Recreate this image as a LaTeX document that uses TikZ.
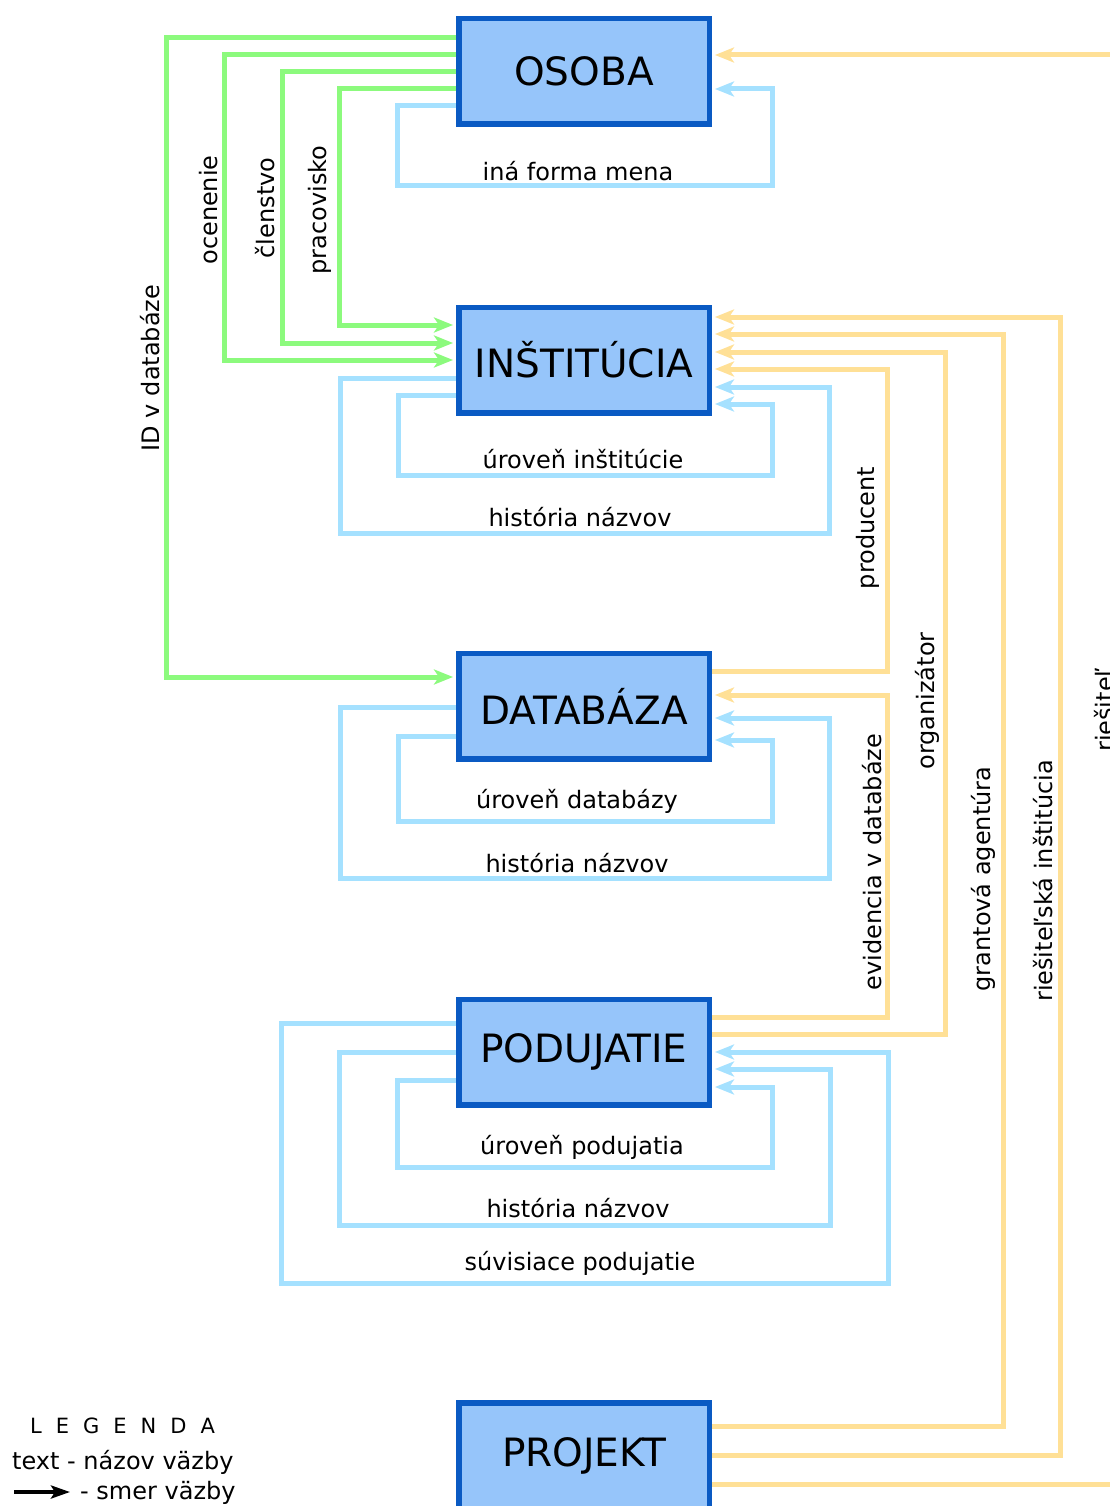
\documentclass[tikz,border=0pt]{standalone}
\usepackage{fontspec}
\setmainfont{DejaVu Sans}
\usetikzlibrary{arrows.meta}
\definecolor{boxfill}{HTML}{96C5FA}
\definecolor{boxline}{HTML}{0A5AC3}
\definecolor{lgreen}{HTML}{8CFA7D}
\definecolor{lblue}{HTML}{A5E1FF}
\definecolor{lorange}{HTML}{FFE096}
\begin{document}
\begin{tikzpicture}[x=1pt,y=-1pt,
  entity/.style={draw=boxline,fill=boxfill,line width=5.5pt,minimum width=250.5pt,minimum height=105.5pt,inner sep=0pt,font=\fontsize{39}{42}\selectfont},
  link/.style={line width=5pt,-{Stealth[length=19pt,width=15pt,inset=5pt]},shorten >=3pt},
  glink/.style={link,draw=lgreen},
  blink/.style={link,draw=lblue},
  olink/.style={link,draw=lorange},
  lbl/.style={font=\fontsize{24}{26}\selectfont,inner sep=0pt},
  vlbl/.style={lbl,rotate=90}]
\useasboundingbox (0,0) rectangle (1110,1506);
\fill[white] (0,0) rectangle (1110,1506);

% entities
\node[entity] (osoba) at (584,71.5) {OSOBA};
\node[entity] (inst)  at (584,360) {INŠTITÚCIA};
\node[entity] (datab) at (584,706) {DATABÁZA};
\node[entity] (pod)   at (584,1052) {PODUJATIE};
\node[entity] (proj)  at (584,1455.5) {PROJEKT};

% green links from OSOBA
\draw[glink] (osoba.west |- 0,38) -- (166,38) -- (166,677) -- (datab.west |- 0,677);
\draw[glink] (osoba.west |- 0,55) -- (224,55) -- (224,360) -- (inst.west |- 0,360);
\draw[glink] (osoba.west |- 0,72) -- (282,72) -- (282,343) -- (inst.west |- 0,343);
\draw[glink] (osoba.west |- 0,89) -- (339,89) -- (339,325) -- (inst.west |- 0,325);
\node[vlbl] (l-id)  at (150,368) {ID v databáze};
\node[vlbl] (l-oc)  at (209,210) {ocenenie};
\node[vlbl] (l-cl)  at (265,208) {členstvo};
\node[vlbl] (l-pr)  at (320,210) {pracovisko};

% OSOBA self loop
\draw[blink] (osoba.west |- 0,106) -- (397,106) -- (397,186) -- (772,186) -- (772,89) -- (osoba.east |- 0,89);
\node[lbl] (l-ina) at (578,171) {iná forma mena};

% INSTITUCIA self loops
\draw[blink] (inst.west |- 0,395) -- (398,395) -- (398,475) -- (772,475) -- (772,404) -- (inst.east |- 0,404);
\draw[blink] (inst.west |- 0,378) -- (340,378) -- (340,533) -- (829,533) -- (829,387) -- (inst.east |- 0,387);
\node[lbl] (l-ui) at (583,459) {úroveň inštitúcie};
\node[lbl] (l-hi) at (580,517) {história názvov};

% DATABAZA self loops
\draw[blink] (datab.west |- 0,736) -- (398,736) -- (398,821) -- (772,821) -- (772,740) -- (datab.east |- 0,740);
\draw[blink] (datab.west |- 0,707) -- (340,707) -- (340,878) -- (829,878) -- (829,718) -- (datab.east |- 0,718);
\node[lbl] (l-ud) at (577,801) {úroveň databázy};
\node[lbl] (l-hd) at (577,863) {história názvov};

% PODUJATIE self loops
\draw[blink] (pod.west |- 0,1080) -- (397,1080) -- (397,1167) -- (772,1167) -- (772,1087) -- (pod.east |- 0,1087);
\draw[blink] (pod.west |- 0,1052) -- (339,1052) -- (339,1225) -- (830,1225) -- (830,1069) -- (pod.east |- 0,1069);
\draw[blink] (pod.west |- 0,1023) -- (281,1023) -- (281,1283) -- (888,1283) -- (888,1052) -- (pod.east |- 0,1052);
\node[lbl] (l-up) at (582,1147) {úroveň podujatia};
\node[lbl] (l-hp) at (578,1208) {história názvov};
\node[lbl] (l-sp) at (580,1263) {súvisiace podujatie};

% orange links
\draw[olink] (datab.east |- 0,671) -- (887,671) -- (887,369) -- (inst.east |- 0,369);
\draw[olink] (pod.east |- 0,1034) -- (945,1034) -- (945,352) -- (inst.east |- 0,352);
\draw[olink] (proj.east |- 0,1426) -- (1003,1426) -- (1003,334) -- (inst.east |- 0,334);
\draw[olink] (proj.east |- 0,1455) -- (1060,1455) -- (1060,317) -- (inst.east |- 0,317);
\draw[olink] (pod.east |- 0,1017) -- (887,1017) -- (887,695) -- (datab.east |- 0,695);
\draw[olink] (proj.east |- 0,1484) -- (1135,1484) -- (1135,55) -- (osoba.east |- 0,55);
\node[vlbl] (l-prod) at (868,528) {producent};
\node[vlbl] (l-org)  at (927,701) {organizátor};
\node[vlbl] (l-evid) at (872,862) {evidencia v databáze};
\node[vlbl] (l-gra)  at (983,879) {grantová agentúra};
\node[vlbl] (l-rin)  at (1043,881) {riešiteľská inštitúcia};
\node[vlbl] (l-rie)  at (1104,710) {riešiteľ};

% legend
\node[font=\fontsize{21}{23}\selectfont,inner sep=0pt,anchor=west] (leg) at (30,1426)
  {L\hspace{14pt}E\hspace{14pt}G\hspace{14pt}E\hspace{14pt}N\hspace{14pt}D\hspace{14pt}A};
\node[lbl,anchor=west] (leg1) at (12,1462) {text - názov väzby};
\coordinate (la) at (14,1492);
\coordinate (lb) at (70,1492);
\draw[line width=4.5pt,-{Stealth[length=19pt,width=13pt,inset=4pt]}] (la) -- (lb);
\node[lbl,anchor=west] (leg2) at (80,1493) {- smer väzby};
\end{tikzpicture}
\end{document}
